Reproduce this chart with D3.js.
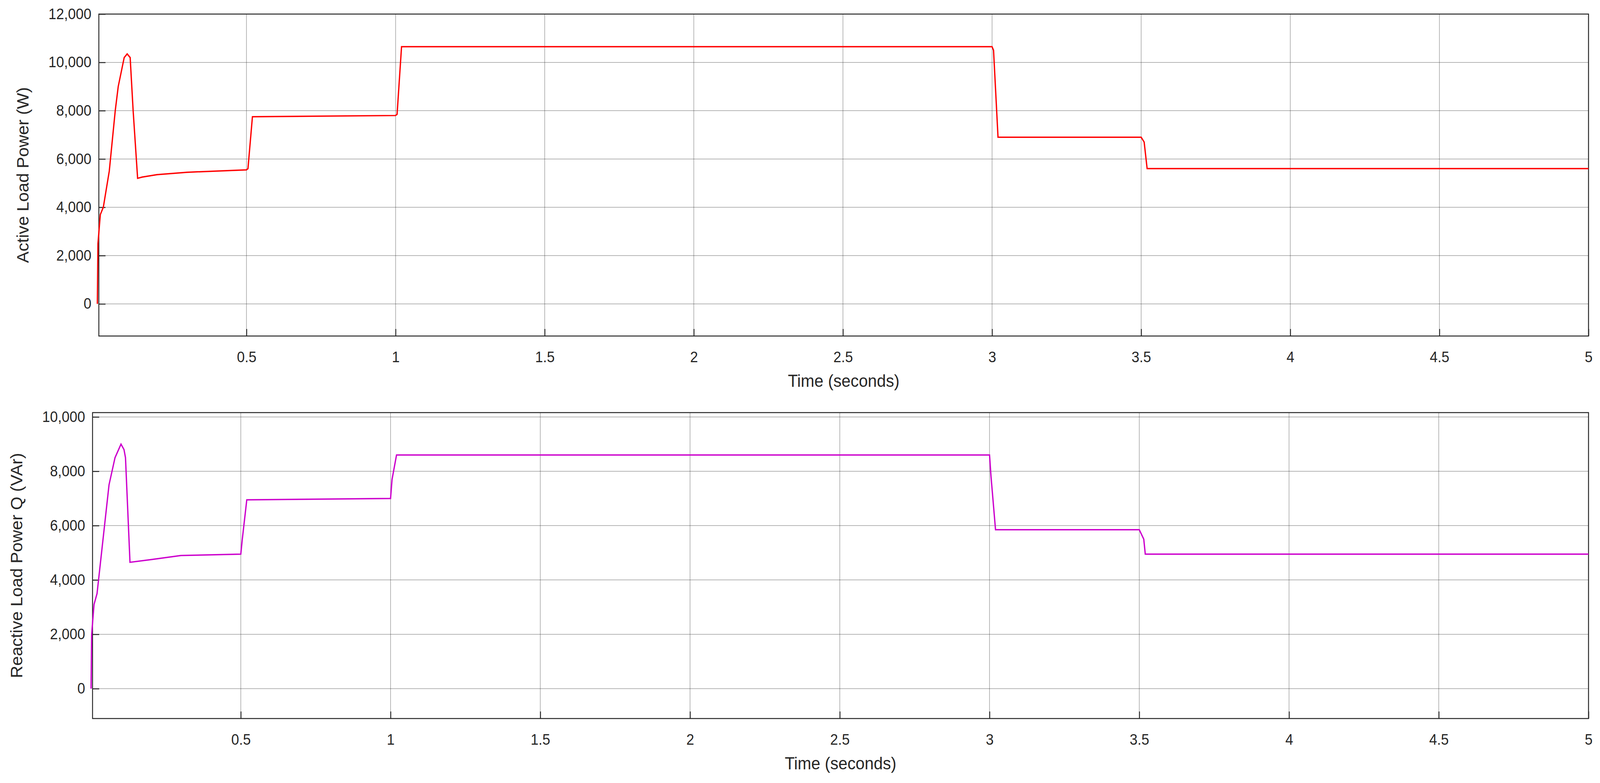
<!DOCTYPE html>
<html>
<head>
<meta charset="utf-8">
<script src="https://cdn.jsdelivr.net/npm/d3@7"></script>
<style>
  html, body { margin: 0; background: #fff; overflow: hidden; }
  svg { display: block; width: 100vw; height: 100vh; }
  text { font-family: "Liberation Sans", Arial, sans-serif; fill: #262626; }
</style>
</head>
<body>
<div id="chart"></div>
<script>
// time (s) and power samples
const activeTime = [0, 0.002, 0.01, 0.02, 0.04, 0.06, 0.07, 0.09, 0.1, 0.11, 0.12, 0.135, 0.15, 0.2, 0.3, 0.5, 0.505, 0.52, 1.0, 1.005, 1.02, 3.0, 3.005, 3.02, 3.5, 3.51, 3.52, 5];
const activePower = [0, 2500, 3700, 4000, 5500, 8000, 9000, 10200, 10350, 10200, 8000, 5200, 5250, 5350, 5450, 5550, 5600, 7750, 7800, 7850, 10650, 10650, 10500, 6900, 6900, 6700, 5600, 5600];

const reactiveTime = [0, 0.002, 0.01, 0.02, 0.04, 0.06, 0.08, 0.1, 0.11, 0.115, 0.13, 0.2, 0.3, 0.5, 0.505, 0.52, 1.0, 1.005, 1.02, 3.0, 3.005, 3.02, 3.5, 3.515, 3.52, 5];
const reactivePower = [0, 2000, 3100, 3500, 5500, 7500, 8500, 9000, 8800, 8500, 4650, 4750, 4900, 4950, 5500, 6950, 7000, 7700, 8600, 8600, 7800, 5850, 5850, 5500, 4950, 4950];

const xTicks = [0.5, 1, 1.5, 2, 2.5, 3, 3.5, 4, 4.5, 5];
const activeTicks = [0, 2000, 4000, 6000, 8000, 10000, 12000];
const reactiveTicks = [0, 2000, 4000, 6000, 8000, 10000];

const w = 4322, h = 2004;
const svg = d3.select("#chart").append("svg")
  .attr("viewBox", `0 0 ${w} ${h}`)
  .attr("preserveAspectRatio", "none");
const fmt = d3.format(",");

function panel(box, times, values, yDomain, yTicks, color, yLabel) {
  const x = d3.scaleLinear().domain([0.005, 5]).range([box.left, box.right]);
  const y = d3.scaleLinear().domain(yDomain).range([box.bottom, box.top]);
  const g = svg.append("g");

  // grid
  g.selectAll(".vg").data(xTicks).enter().append("line")
    .attr("x1", d => x(d)).attr("x2", d => x(d))
    .attr("y1", box.top).attr("y2", box.bottom)
    .attr("stroke", "#262626").attr("stroke-opacity", 0.45).attr("stroke-width", 1.5);
  g.selectAll(".hg").data(yTicks).enter().append("line")
    .attr("x1", box.left).attr("x2", box.right)
    .attr("y1", d => y(d)).attr("y2", d => y(d))
    .attr("stroke", "#262626").attr("stroke-opacity", 0.45).attr("stroke-width", 1.5);

  const xAxis = d3.axisBottom(x).tickValues(xTicks).tickFormat(d3.format("")).tickSizeInner(-18).tickSizeOuter(0).tickPadding(40);
  const yAxis = d3.axisLeft(y).tickValues(yTicks).tickFormat(fmt).tickSizeInner(-18).tickSizeOuter(0).tickPadding(20);

  const xa = g.append("g").attr("transform", `translate(0,${box.bottom})`).call(xAxis);
  const ya = g.append("g").attr("transform", `translate(${box.left},0)`).call(yAxis);
  [xa, ya].forEach(a => {
    a.select(".domain").remove();
    a.selectAll("line").attr("stroke", "#262626").attr("stroke-width", 2.5);
    a.selectAll("text").style("font-size", "38px").attr("fill", "#262626");
  });

  g.append("rect")
    .attr("x", box.left).attr("y", box.top)
    .attr("width", box.right - box.left).attr("height", box.bottom - box.top)
    .attr("fill", "none").attr("stroke", "#262626").attr("stroke-width", 2.5);

  const line = d3.line().x(d => x(d[0])).y(d => y(d[1]));
  g.append("path")
    .datum(times.map((t, i) => [t, values[i]]))
    .attr("d", line)
    .attr("fill", "none").attr("stroke", color).attr("stroke-width", 3.5);

  g.append("text")
    .attr("x", (box.left + box.right) / 2).attr("y", box.bottom + 130)
    .attr("text-anchor", "middle").style("font-size", "44px")
    .text("Time (seconds)");
  g.append("text")
    .attr("transform", `translate(${box.left - 190},${(box.top + box.bottom) / 2}) rotate(-90)`)
    .attr("text-anchor", "middle").style("font-size", "44px")
    .text(yLabel);
}

panel({ left: 267, right: 4291, top: 36, bottom: 860 }, activeTime, activePower,
  [-1330, 12000], activeTicks, "#ff0000", "Active Load Power (W)");
panel({ left: 250, right: 4291, top: 1056, bottom: 1839 }, reactiveTime, reactivePower,
  [-1100, 10160], reactiveTicks, "#cc00cc", "Reactive Load Power Q (VAr)");
</script>
</body>
</html>
